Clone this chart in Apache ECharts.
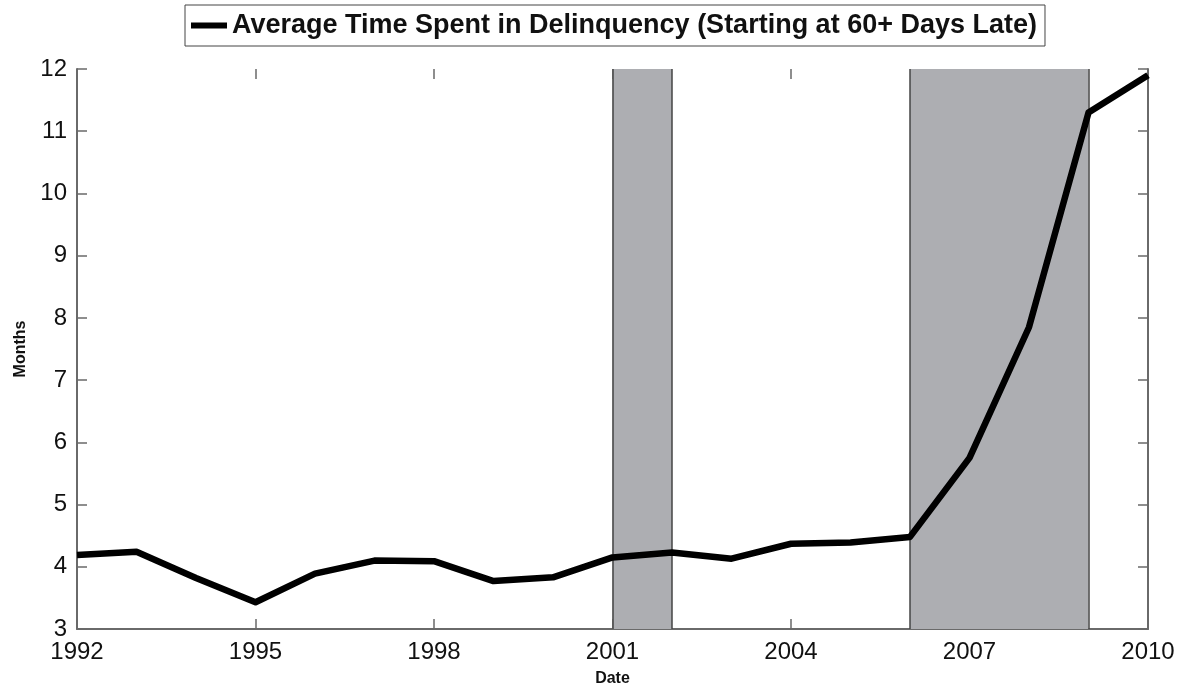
<!DOCTYPE html>
<html><head><meta charset="utf-8">
<script src="https://cdn.jsdelivr.net/npm/echarts@6/dist/echarts.min.js"></script>
<style>html,body{margin:0;padding:0;background:#fff}#c{width:1182px;height:690px}</style>
</head><body><div id="c"></div>
<script>
const years = [1992,1993,1994,1995,1996,1997,1998,1999,2000,2001,2002,2003,2004,2005,2006,2007,2008,2009,2010];
const months = [4.19,4.24,3.82,3.43,3.89,4.10,4.09,3.77,3.83,4.15,4.23,4.13,4.37,4.39,4.48,5.75,7.85,11.30,11.90];
const recessions = [[2001,2002],[2006,2009]];
const seriesName = 'Average Time Spent in Delinquency (Starting at 60+ Days Late)';

const chart = echarts.init(document.getElementById('c'));
const axisCol = '#6a6a6a';
const lab = {fontFamily:'Liberation Sans, Arial, sans-serif', fontSize:24, color:'#111'};
const edges = [];
recessions.forEach(r=>{edges.push({xAxis:r[0]});edges.push({xAxis:r[1]});});
chart.setOption({
  animation:false,
  backgroundColor:'#fff',
  grid:{left:77,right:34,top:69,bottom:61,containLabel:false,outerBoundsMode:'none'},
  legend:{
    top:5,left:185,
    data:[{name:seriesName,icon:'rect'}],
    itemWidth:36,itemHeight:6,itemGap:8,
    borderColor:'#444',borderWidth:1,padding:[7,8,7,6],
    textStyle:{fontFamily:'Liberation Sans, Arial, sans-serif',fontWeight:'bold',fontSize:27,color:'#111'}
  },
  xAxis:[{
    type:'value',min:1992,max:2010,interval:3,
    name:'Date',nameLocation:'middle',nameGap:42,
    nameTextStyle:{fontFamily:'Liberation Sans, Arial, sans-serif',fontWeight:'bold',fontSize:16,color:'#111'},
    axisLine:{show:true,lineStyle:{color:axisCol,width:2}},
    axisTick:{show:true,inside:true,length:10,lineStyle:{color:axisCol,width:1.5}},
    axisLabel:Object.assign({margin:11,formatter:v=>String(v)},lab),
    splitLine:{show:false}
  },{
    type:'value',min:1992,max:2010,interval:3,position:'top',
    axisLine:{show:false},
    axisTick:{show:true,inside:true,length:10,lineStyle:{color:axisCol,width:1.5}},
    axisLabel:{show:false},splitLine:{show:false}
  }],
  yAxis:[{
    type:'value',min:3,max:12,interval:1,
    name:'Months',nameLocation:'middle',nameGap:48,nameRotate:90,
    nameTextStyle:{fontFamily:'Liberation Sans, Arial, sans-serif',fontWeight:'bold',fontSize:16,color:'#111'},
    axisLine:{show:true,lineStyle:{color:axisCol,width:2}},
    axisTick:{show:true,inside:true,length:10,lineStyle:{color:axisCol,width:1.5}},
    axisLabel:Object.assign({margin:10},lab),
    splitLine:{show:false}
  },{
    type:'value',min:3,max:12,interval:1,position:'right',
    axisLine:{show:true,lineStyle:{color:axisCol,width:2}},
    axisTick:{show:true,inside:true,length:10,lineStyle:{color:axisCol,width:1.5}},
    axisLabel:{show:false},splitLine:{show:false}
  }],
  series:[{
    name:seriesName,type:'line',
    data:years.map((y,i)=>[y,months[i]]),
    showSymbol:false,symbol:'none',
    lineStyle:{color:'#000',width:6.5,join:'round'},
    itemStyle:{color:'#000'},
    markArea:{
      silent:true,
      itemStyle:{color:'#adaeb2',borderWidth:0},
      data:recessions.map(r=>[{xAxis:r[0]},{xAxis:r[1]}])
    },
    markLine:{
      silent:true,symbol:'none',label:{show:false},
      lineStyle:{color:'#444',width:1.5,type:'solid'},
      data:edges
    },
    z:5
  }]
});
</script></body></html>
